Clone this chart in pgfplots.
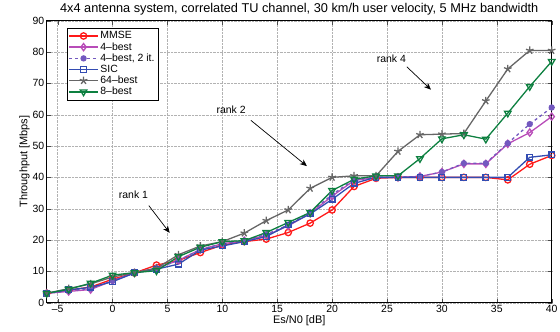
\documentclass[border=0pt]{standalone}
\usepackage{pgfplots}
\pgfplotsset{compat=1.18}
\usepackage{fontspec}
\setmainfont{Liberation Sans}
\usetikzlibrary{arrows.meta}
\definecolor{cMMSE}{rgb}{1,0.1,0.1}
\definecolor{cFour}{rgb}{0.72,0.3,0.72}
\definecolor{cFourTwo}{rgb}{0.45,0.35,0.75}
\definecolor{cSIC}{rgb}{0.2,0.3,0.7}
\definecolor{cSixFour}{rgb}{0.4,0.4,0.4}
\definecolor{cEight}{rgb}{0.05,0.5,0.25}
\begin{document}
\begin{tikzpicture}
\begin{axis}[
  scale only axis, width=505bp, height=282bp,
  at={(0,0)}, anchor=south west,
  xmin=-6, xmax=40, ymin=0, ymax=90,
  xtick={-5,0,...,40}, ytick={0,10,...,90},
  xticklabels={--5,0,5,10,15,20,25,30,35,40},
  tick align=inside, tick pos=both,
  major tick length=4bp,
  grid=major, grid style={densely dotted, gray!60},
  axis line style={black, line width=0.7pt},
  tick style={black!70},
  /pgf/number format/assume math mode=true,
  ticklabel style={font=\fontsize{10.5}{12}\selectfont},
  xticklabel style={yshift=1bp},
  yticklabel style={xshift=1bp},
  label style={font=\fontsize{11}{13}\selectfont},
  xlabel={Es/N0 [dB]}, ylabel={Throughput [Mbps]},
  xlabel style={yshift=4bp}, ylabel style={yshift=-4bp},
  title={4x4 antenna system, correlated TU channel, 30 km/h user velocity, 5 MHz bandwidth},
  title style={font=\fontsize{12.8}{14}\selectfont, yshift=-4bp},
  legend style={at={(0.04,0.975)}, anchor=north west, font=\fontsize{10.5}{12}\selectfont,
    draw=black, line width=0.7pt, inner sep=1.5pt, row sep=-1.8pt},
  legend cell align=left,
  every axis plot/.append style={line width=1.3pt, mark size=3.2pt},
  legend image code/.code={\draw[mark repeat=2,mark phase=2] plot coordinates {(0cm,0cm) (0.5cm,0cm) (1.0cm,0cm)};},
]
\addplot[color=cMMSE, mark=o, mark options={solid}] coordinates {
(-6,3) (-4,4) (-2,5) (0,7.5) (2,9.5) (4,12) (6,13.5) (8,16) (10,18.4) (12,19.5) (14,20.3) (16,22.4) (18,25.4) (20,29.6) (22,37.1) (24,39.7) (26,40) (28,40) (30,40) (32,40) (34,40) (36,39.2) (38,44.2) (40,47)};
\addlegendentry{MMSE}
\addplot[color=cFour, mark=diamond, mark options={solid, fill=white}, mark size=3.6pt] coordinates {
(-6,3) (-4,3.6) (-2,4.2) (0,7) (2,9.5) (4,11) (6,13.5) (8,17) (10,18.8) (12,19.8) (14,21.5) (16,24.5) (18,28.5) (20,34) (22,39) (24,40) (26,40) (28,40.3) (30,41.7) (32,44.3) (34,44.3) (36,50.7) (38,54.3) (40,59.4)};
\addlegendentry{4--best}
\addplot[color=cFourTwo, dashed, mark=*, mark options={solid}, mark size=2.5pt] coordinates {
(-6,3) (-4,3.8) (-2,4.5) (0,7) (2,9.5) (4,11) (6,13.5) (8,17) (10,18.8) (12,19.8) (14,21.8) (16,24.8) (18,28.8) (20,34.5) (22,39.3) (24,40) (26,40) (28,40.3) (30,41.7) (32,44.5) (34,44.5) (36,50.9) (38,57) (40,62.3)};
\addlegendentry{4--best, 2 it.}
\addplot[color=cSIC, mark=square, mark options={solid}, mark size=2.8pt] coordinates {
(-6,3) (-4,4.1) (-2,4.9) (0,6.7) (2,9.5) (4,10.7) (6,12.3) (8,16.8) (10,18.1) (12,19.5) (14,21.1) (16,24.8) (18,28.3) (20,33) (22,38.1) (24,40) (26,40) (28,40) (30,40) (32,40) (34,40) (36,40) (38,46.4) (40,47.2)};
\addlegendentry{SIC}
\addplot[color=cSixFour, mark=star, mark options={solid}, mark size=4pt] coordinates {
(-6,3) (-4,4.5) (-2,6) (0,8.2) (2,9.6) (4,11) (6,15.3) (8,18.1) (10,19.5) (12,22.2) (14,26.2) (16,29.6) (18,36.5) (20,40) (22,40.5) (24,40.5) (26,48.3) (28,53.6) (30,53.8) (32,54) (34,64.4) (36,74.6) (38,80.5) (40,80.5)};
\addlegendentry{64--best}
\addplot[color=cEight, mark=triangle, mark options={solid, rotate=180, fill=white}, mark size=3.8pt] coordinates {
(-6,3) (-4,4.3) (-2,6.2) (0,8.8) (2,9.6) (4,10.2) (6,14.7) (8,17.7) (10,19.5) (12,19.8) (14,22.4) (16,25.6) (18,28.8) (20,35.8) (22,39.4) (24,40.5) (26,40.5) (28,46) (30,52.3) (32,53.6) (34,52.2) (36,60.5) (38,69) (40,77)};
\addlegendentry{8--best}
\node[font=\fontsize{10.5}{12}\selectfont] at (axis cs:1.9,34.4) {rank 1};
\draw[-{Stealth[length=7pt,width=6pt]}, line width=0.7pt] (axis cs:3.3,31) -- (axis cs:5.2,22.3);
\node[font=\fontsize{10.5}{12}\selectfont] at (axis cs:10.8,61.5) {rank 2};
\draw[-{Stealth[length=7pt,width=6pt]}, line width=0.7pt] (axis cs:12.6,58.2) -- (axis cs:17.7,43.6);
\node[font=\fontsize{10.5}{12}\selectfont] at (axis cs:25.4,77.8) {rank 4};
\draw[-{Stealth[length=7pt,width=6pt]}, line width=0.7pt] (axis cs:26.8,75.3) -- (axis cs:29,68);
\end{axis}
\pgfresetboundingbox
\path[use as bounding box] (-46.7bp,-29.3bp) rectangle (513.3bp,302.7bp);
\end{tikzpicture}
\end{document}
